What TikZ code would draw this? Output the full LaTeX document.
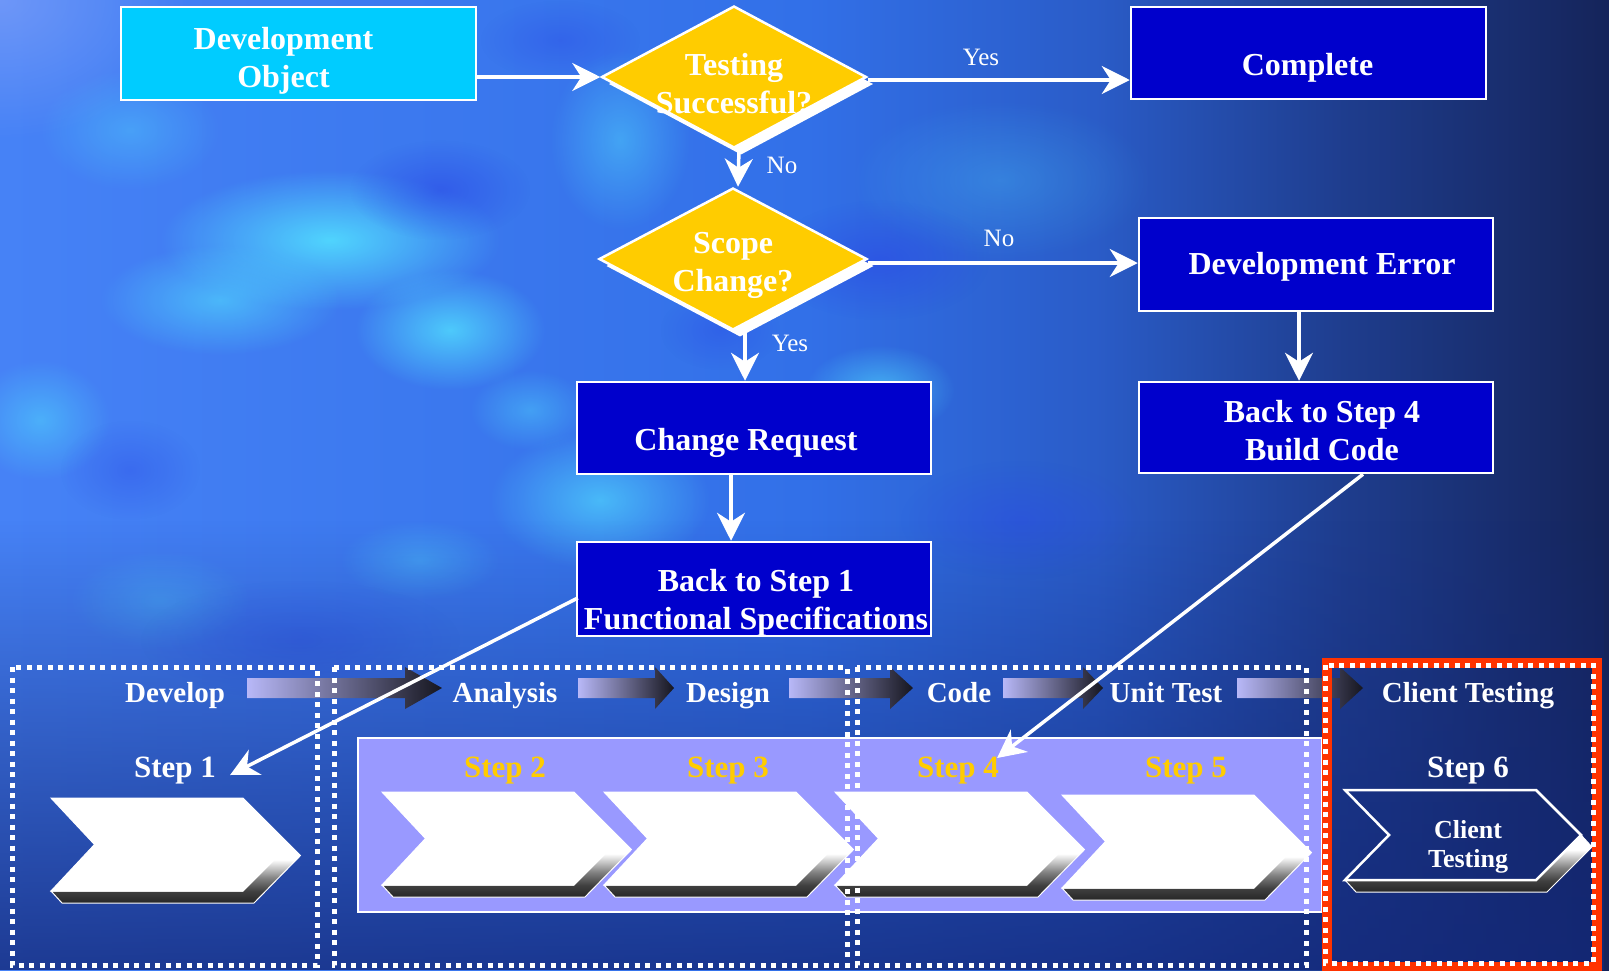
\documentclass[tikz,border=0pt]{standalone}
\usepackage{fontspec}
\setmainfont{Liberation Serif}
\usetikzlibrary{arrows.meta,shapes.geometric,shadows,fadings}

% palette
\definecolor{bgA}{HTML}{4682F6}
\definecolor{bgB}{HTML}{3270E8}
\definecolor{bgC}{HTML}{2A5CC8}
\definecolor{bgD}{HTML}{1E3C8C}
\definecolor{bgE}{HTML}{15245A}
\definecolor{lowblue}{HTML}{13287A}
\definecolor{cloudcyan}{HTML}{52DEFF}
\definecolor{deepblue}{HTML}{2A46E6}
\definecolor{paleblue}{HTML}{8FA8FA}
\definecolor{lavender}{HTML}{9999FF}
\definecolor{boxblue}{HTML}{0000CC}
\definecolor{objcyan}{HTML}{00CCFF}
\definecolor{decisiongold}{HTML}{FFCC00}
\definecolor{framered}{HTML}{FF3300}
\definecolor{phaselight}{HTML}{B8B8F8}
\definecolor{phasedark}{HTML}{16161F}
\colorlet{sideA}{black!85}
\colorlet{sideB}{black!75}
\colorlet{sideC}{black!50}

% backdrop sweep, left bright to right dark
\pgfdeclarehorizontalshading{bgsweep}{100bp}{color(0bp)=(bgA); color(25bp)=(bgA); color(50bp)=(bgB); color(59bp)=(bgC); color(67bp)=(bgD); color(75bp)=(bgE); color(100bp)=(bgE)}
% bevel under each chevron
\pgfdeclareverticalshading{chevside}{100bp}{color(0bp)=(sideA); color(25bp)=(sideA); color(35bp)=(sideB); color(46bp)=(sideC); color(62bp)=(white); color(100bp)=(white)}

\tikzfading[name=cloudfade, inner color=transparent!0, outer color=transparent!100]
\tikzfading[name=lowfade, top color=transparent!100, bottom color=transparent!20]

\tikzset{
  procbox/.style={rectangle, draw=white, line width=2.5pt, fill=boxblue, inner sep=0pt},
  objbox/.style={procbox, fill=objcyan},
  decision/.style={diamond, draw=white, line width=2.5pt, fill=decisiongold, inner sep=0pt,
    drop shadow={fill=white, opacity=1, shadow xshift=7pt, shadow yshift=-7pt}},
  boxtxt/.style={text=white, font=\fontsize{32}{38}\selectfont\bfseries, align=center, inner sep=0pt},
  yn/.style={text=white, font=\fontsize{25}{30}\selectfont, inner sep=0pt},
  phase/.style={text=white, font=\fontsize{29}{34}\selectfont\bfseries, inner sep=0pt},
  steplbl/.style={font=\fontsize{31}{36}\selectfont\bfseries, inner sep=0pt},
  chevtxt/.style={text=white, font=\fontsize{26}{29}\selectfont\bfseries, align=center, inner sep=0pt},
  flow/.style={draw=white, line width=3.5pt, -{Stealth[length=28pt, width=28pt, inset=9pt]}},
  dotframe/.style={draw=white, line width=5pt, dash pattern=on 5pt off 5.5pt},
  pics/chevron/.style={code={
    \shade[shading=chevside, draw=white, line width=1pt]
      (0,93) -- (11,105) -- (203,105) -- (249.5,57.5) -- (238.5,46.5) -- (192,93) -- cycle;
    \filldraw[fill=white, draw=white, line width=1pt]
      (0,0) -- (192,0) -- (238.5,46.5) -- (192,93) -- (0,93) -- (43.5,46.5) -- cycle;
  }},
  pics/openchevron/.style={code={
    \shade[shading=chevside, draw=white, line width=1pt]
      (0,90) -- (11,102) -- (202,102) -- (247,57) -- (236,45) -- (191,90) -- cycle;
    \draw[white, line width=2.5pt, line join=miter]
      (0,0) -- (191,0) -- (236,45) -- (191,90) -- (0,90) -- (44,45) -- cycle;
  }}
}

\begin{document}
\begin{tikzpicture}[x=1pt, y=-1pt]
\useasboundingbox (0,0) rectangle (1609,970);

% ---- cloudy backdrop ----
\shade[shading=bgsweep] (0,0) rectangle (1609,970);
\fill[paleblue, opacity=.55, path fading=cloudfade] (0,0) ellipse [x radius=190, y radius=140];
\foreach \cx/\cy/\rx/\ry/\op in {330/240/170/70/.9, 220/300/120/55/.6,
    450/330/95/60/.8, 600/500/110/70/.65, 880/390/75/45/.6, 620/140/70/90/.45,
    40/420/70/60/.5, 420/560/80/40/.35, 160/600/90/50/.3, 1000/180/150/80/.25,
    130/130/90/60/.35, 530/410/60/40/.4}
  \fill[cloudcyan, opacity=\op, path fading=cloudfade]
    (\cx,\cy) ellipse [x radius=\rx, y radius=\ry];
\foreach \cx/\cy/\rx/\ry/\op in {440/190/90/50/.55, 880/260/110/60/.55, 720/330/60/40/.35,
    1020/520/120/60/.4, 130/470/70/50/.35, 300/640/160/60/.35, 560/40/80/40/.35}
  \fill[deepblue, opacity=\op, path fading=cloudfade] (\cx,\cy) ellipse [x radius=\rx, y radius=\ry];
\fill[lowblue, path fading=lowfade] (0,520) rectangle (1609,970);

% ---- phase band ----
\draw[line width=2.5pt, draw=white, fill=lavender] (358,738) rectangle (1322,912);

% phase arrows between the headings
\foreach \xa/\xb/\xc in {247/405/442, 578/655/674, 789/890/913, 1003/1083/1103, 1237/1340/1363}
  \shade[left color=phaselight, right color=phasedark]
    (\xa,678) -- (\xb,678) -- (\xb,667) -- (\xc,688) -- (\xb,709) -- (\xb,698) -- (\xa,698) -- cycle;

% step chevrons
\pic at (51,798) {chevron};
\pic at (382,792) {chevron};
\pic at (604,792) {chevron};
\pic at (835,792) {chevron};
\pic at (1062,795) {chevron};
\pic at (1345,790) {openchevron};

% phase frames
\draw[dotframe] (12,667) rectangle (317,965);
\draw[dotframe] (334,667) rectangle (847,965);
\draw[dotframe] (857,667) rectangle (1306,965);
\draw[framered, line width=10pt] (1327,663) rectangle (1597,967);
\draw[dotframe] (1325,665) rectangle (1593,963);

% phase headings
\node[phase] (ph1) at (175,696) {Develop};
\node[phase] (ph2) at (505,696) {Analysis};
\node[phase] (ph3) at (728,696) {Design};
\node[phase] (ph4) at (959,693) {Code};
\node[phase] (ph5) at (1166,693) {Unit Test};
\node[phase] (ph6) at (1468,696) {Client Testing};

% step labels
\node[steplbl, text=white] (s1) at (175,771) {Step 1};
\node[steplbl, text=decisiongold] (s2) at (505,771) {Step 2};
\node[steplbl, text=decisiongold] (s3) at (728,771) {Step 3};
\node[steplbl, text=decisiongold] (s4) at (958,771) {Step 4};
\node[steplbl, text=decisiongold] (s5) at (1186,771) {Step 5};
\node[steplbl, text=white] (s6) at (1468,771) {Step 6};
\node[chevtxt] (s6txt) at (1468,847) {Client\\Testing};

% ---- decision flow ----
\node[objbox, minimum width=355pt, minimum height=93pt] (devobj) at (298.5,53.5) {};
\node[decision, minimum width=265pt, minimum height=142pt] (testing) at (734,77) {};
\node[procbox, minimum width=355pt, minimum height=92pt] (complete) at (1308.5,53) {};
\node[decision, minimum width=268pt, minimum height=142pt] (scope) at (733,259) {};
\node[procbox, minimum width=354pt, minimum height=93pt] (deverr) at (1316,264.5) {};
\node[procbox, minimum width=354pt, minimum height=92pt] (cr) at (754,428) {};
\node[procbox, minimum width=354pt, minimum height=91pt] (bs4) at (1316,427.5) {};
\node[procbox, minimum width=354pt, minimum height=94pt] (bs1) at (754,589) {};

\node[boxtxt] (devobjtxt) at ([shift={(-15,7)}]devobj.center) {Development\\Object};
\node[boxtxt] (testingtxt) at ([shift={(0,7)}]testing.center) {Testing\\Successful?};
\node[boxtxt] (completetxt) at ([shift={(-1,15)}]complete.center) {Complete};
\node[boxtxt] (scopetxt) at ([shift={(0,6)}]scope.center) {Scope\\Change?};
\node[boxtxt] (deverrtxt) at ([shift={(6,2)}]deverr.center) {Development Error};
\node[boxtxt] (crtxt) at ([shift={(-8,15)}]cr.center) {Change Request};
\node[boxtxt] (bs4txt) at ([shift={(6,3)}]bs4.center) {Back to Step 4\\Build Code};
\node[boxtxt] (bs1txt) at ([shift={(2,14)}]bs1.center) {Back to Step 1\\Functional Specifications};

\node[yn] (yes1) at (981,57) {Yes};
\node[yn] (no1) at (782,165) {No};
\node[yn] (no2) at (999,238) {No};
\node[yn] (yes2) at (790,343) {Yes};

% connectors
\draw[flow] (devobj.east |- testing.west) -- (testing.west);
\draw[flow] ([shift={(0,3)}]testing.east) -- ([shift={(0,3)}]testing.east -| complete.west);
\draw[flow] ([shift={(5,0)}]testing.south) -- ([shift={(5,0)}]scope.north);
\draw[flow] ([shift={(0,4)}]scope.east) -- ([shift={(0,4)}]scope.east -| deverr.west);
\draw[flow] ([shift={(12,0)}]scope.south) -- ([shift={(12,0)}]scope.south |- cr.north);
\draw[flow] ([shift={(-23,0)}]cr.south) -- ([shift={(-23,0)}]cr.south |- bs1.north);
\draw[flow] ([shift={(-17,0)}]deverr.south) -- ([shift={(-17,0)}]deverr.south |- bs4.north);
\draw[flow] ([shift={(2,9)}]bs1.west) -- ([shift={(14,4)}]s1.east);
\draw[flow] ([shift={(47,0)}]bs4.south) -- ([shift={(-2,-13)}]s4.east);
\end{tikzpicture}
\end{document}
